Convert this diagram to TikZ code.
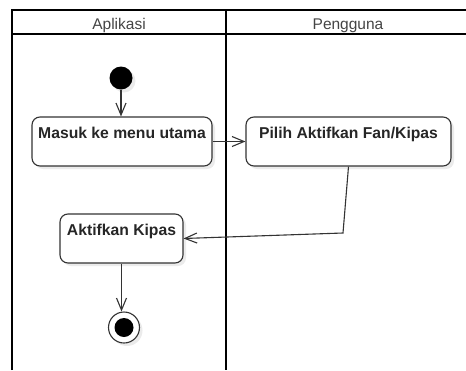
\documentclass[tikz,border=0pt]{standalone}
\usepackage{fontspec}
\setmainfont{Liberation Sans}
\usetikzlibrary{arrows.meta,shadows}
\definecolor{edgegray}{HTML}{333333}
\definecolor{lanetext}{HTML}{444444}
\definecolor{shade}{HTML}{EBEBEB}
\tikzset{
  lane/.style={line width=1.8pt, black},
  lanelabel/.style={anchor=base, text=lanetext, font=\fontsize{15.5}{18}\selectfont},
  activity/.style={draw=edgegray, line width=1.1pt, rounded corners=8pt, fill=white,
    text=black!85, font=\bfseries\fontsize{15.7}{18}\selectfont,
    inner xsep=0pt, inner ysep=0pt, text height=21.6pt, text depth=27.4pt,
    drop shadow={shadow xshift=3pt, shadow yshift=-3pt, fill=shade, opacity=1}},
  initial/.style={circle, fill=black, minimum size=23pt, inner sep=0pt,
    drop shadow={shadow xshift=3pt, shadow yshift=-3pt, fill=shade, opacity=1}},
  finalring/.style={circle, draw=edgegray, line width=1.1pt, fill=white, minimum size=31pt, inner sep=0pt,
    drop shadow={shadow xshift=3pt, shadow yshift=-3pt, fill=shade, opacity=1}},
  finaldot/.style={circle, fill=black, minimum size=19pt, inner sep=0pt},
  flow/.style={draw=edgegray, line width=1.1pt, -{Straight Barb[length=12pt,width=10pt]}}
}
\begin{document}
\begin{tikzpicture}[x=1pt,y=-1pt]
  \useasboundingbox (0,0) rectangle (466,370);
  % swimlane frame
  \draw[lane] (12,370) -- (12,10) -- (466,10);
  \draw[lane] (12,34) -- (466,34);
  \draw[lane] (226,10) -- (226,370);
  \node[lanelabel] (laneA) at (119,29.5) {Aplikasi};
  \node[lanelabel] (laneB) at (348,29.5) {Pengguna};
  % activities
  \node[initial] (start) at (121,78) {};
  \node[activity, minimum width=180pt] (masuk) at (122,141.5) {Masuk ke menu utama};
  \node[activity, minimum width=205pt] (pilih) at (348.5,141.5) {Pilih Aktifkan Fan/Kipas};
  \node[activity, minimum width=123pt] (akt) at (121.5,238.5) {Aktifkan Kipas};
  \node[finalring] (final) at (124,327.5) {};
  \node[finaldot] (finaldot) at (final.center) {};
  \coordinate (bend) at (343,233);
  % control flow
  \draw[flow] (start.south) -- (start.south |- masuk.north);
  \draw[flow] (masuk) -- (pilih);
  \draw[flow] (pilih.south) -- (bend) -- (akt.east);
  \draw[flow] (akt.south) -- (akt.south |- final.north);
\end{tikzpicture}
\end{document}
